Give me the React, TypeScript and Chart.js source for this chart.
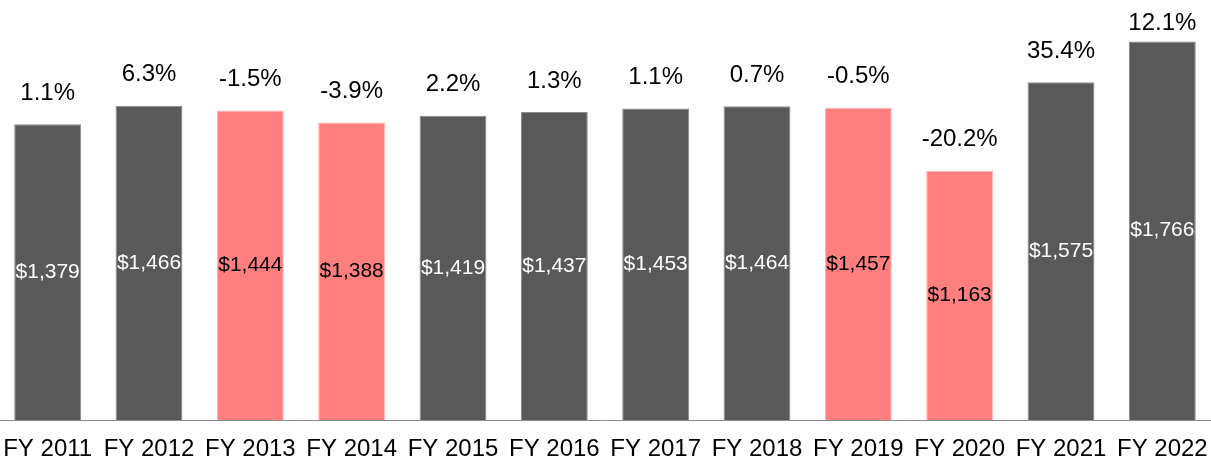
import React, { useEffect, useRef } from "react";
import { Chart, registerables } from "chart.js";

Chart.register(...registerables);

const categories = ["FY 2011", "FY 2012", "FY 2013", "FY 2014", "FY 2015", "FY 2016", "FY 2017", "FY 2018", "FY 2019", "FY 2020", "FY 2021", "FY 2022"];
const values = [1379, 1466, 1444, 1388, 1419, 1437, 1453, 1464, 1457, 1163, 1575, 1766];
const growthLabels = ["1.1%", "6.3%", "-1.5%", "-3.9%", "2.2%", "1.3%", "1.1%", "0.7%", "-0.5%", "-20.2%", "35.4%", "12.1%"];
const declineFlags = [false, false, true, true, false, false, false, false, true, true, false, false];

const DARK = "#595959";
const PINK = "#FF7F7F";
const FONT = "'Liberation Sans', Arial, sans-serif";
const CANVAS_W = 1216;
const OFFSET_X = -3;

const labelPlugin = {
  id: "barLabels",
  afterDatasetsDraw(chart: any) {
    const ctx = chart.ctx;
    const meta = chart.getDatasetMeta(0);
    ctx.save();
    ctx.textAlign = "center";
    ctx.textBaseline = "middle";
    meta.data.forEach((bar: any, i: number) => {
      ctx.font = `24px ${FONT}`;
      ctx.fillStyle = "#000000";
      const py = Math.max(bar.y - 31, 23);
      ctx.fillText(growthLabels[i], bar.x, py);
      ctx.font = `21px ${FONT}`;
      ctx.fillStyle = declineFlags[i] ? "#000000" : "#ffffff";
      const vy = (bar.y + bar.base) / 2;
      ctx.fillText("$" + values[i].toLocaleString("en-US"), bar.x, vy);
    });
    ctx.restore();
  },
};

export default function App() {
  const ref = useRef<HTMLCanvasElement>(null);
  useEffect(() => {
    if (!ref.current) return;
    const chart = new Chart(ref.current, {
      type: "bar",
      data: {
        labels: categories,
        datasets: [
          {
            data: values,
            backgroundColor: declineFlags.map((d) => (d ? PINK : DARK)),
            borderColor: declineFlags.map((d) => (d ? "#ffb3b3" : "#8a8a8a")),
            borderWidth: 1,
            barPercentage: 0.66,
            categoryPercentage: 1,
          },
        ],
      },
      options: {
        responsive: false,
        animation: false,
        layout: { padding: 0 },
        plugins: { legend: { display: false }, tooltip: { enabled: false } },
        scales: {
          x: {
            grid: { display: false, drawTicks: false },
            border: { display: true, color: "#8a8a8a", width: 1 },
            ticks: { color: "#000000", font: { family: FONT, size: 24 }, padding: 15, maxRotation: 0, autoSkip: false },
            afterFit(scale: any) {
              scale.height = 42;
              scale.paddingLeft = 0;
              scale.paddingRight = 0;
            },
          },
          y: {
            display: false,
            min: 0,
            max: 1959,
          },
        },
      },
      plugins: [labelPlugin],
    });
    return () => chart.destroy();
  }, []);
  return (
    <div style={{ position: "absolute", left: 0, top: 0, width: 1211, height: 462, overflow: "hidden" }}>
      <canvas
        ref={ref}
        width={CANVAS_W}
        height={462}
        style={{ position: "absolute", left: OFFSET_X, top: 0, width: CANVAS_W, height: 462 }}
      />
    </div>
  );
}
